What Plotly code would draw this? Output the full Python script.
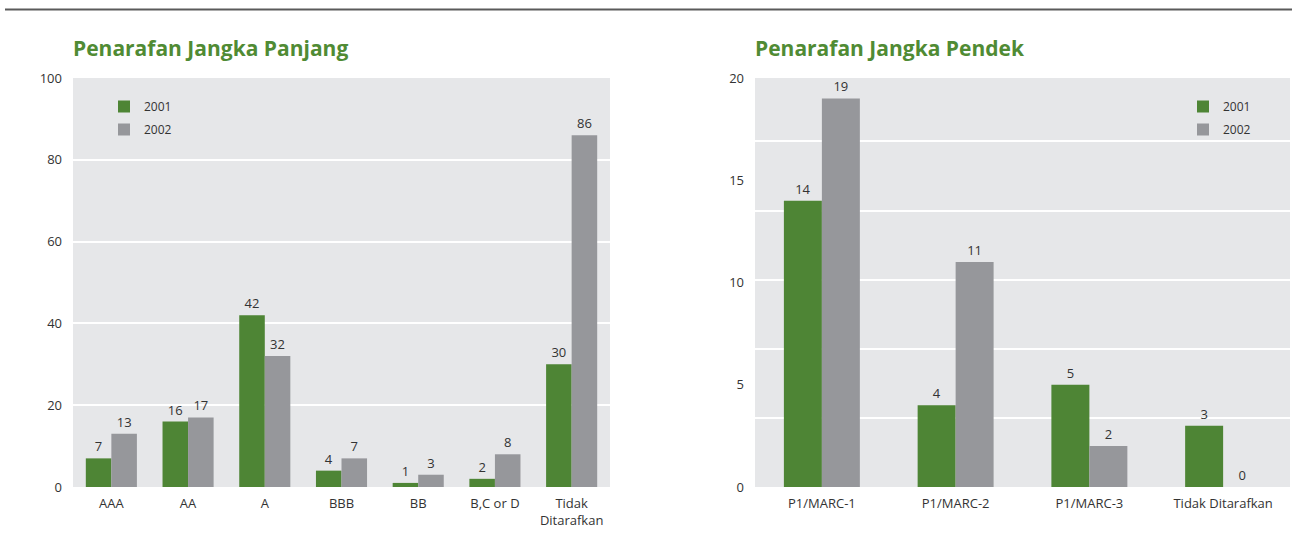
import plotly.graph_objects as go

# ---- data ----
long_categories = ["AAA", "AA", "A", "BBB", "BB", "B,C or D", "Tidak<br>Ditarafkan"]
long_2001 = [7, 16, 42, 4, 1, 2, 30]
long_2002 = [13, 17, 32, 7, 3, 8, 86]

short_categories = ["P1/MARC-1", "P1/MARC-2", "P1/MARC-3", "Tidak Ditarafkan"]
short_2001 = [14, 4, 5, 3]
short_2002 = [19, 11, 2, 0]

long_ticks = [0, 20, 40, 60, 80, 100]
short_ticks = [0, 5, 10, 15, 20]

title_long = "Penarafan Jangka Panjang"
title_short = "Penarafan Jangka Pendek"
series_names = ["2001", "2002"]

# ---- style ----
W, H = 1292, 538
GREEN = "rgb(78,133,53)"
GRAY = "rgb(150,151,155)"
BG = "rgb(230,231,233)"
TITLE_GREEN = "rgb(80,139,52)"
TXT = "#333333"
FONT = "Open Sans, Roboto, sans-serif"

def px_x(p):
    return p / W

def px_y(p):
    return 1 - p / H

fig = go.Figure()

lw = 0.333
fig.add_trace(go.Bar(x=long_categories, y=long_2001, name=series_names[0],
                     marker=dict(color=GREEN, line=dict(width=0)),
                     width=lw, offset=-lw, text=long_2001, textposition="outside",
                     cliponaxis=False, textfont=dict(size=13, color=TXT),
                     xaxis="x", yaxis="y", legend="legend", legendgroup="a"))
fig.add_trace(go.Bar(x=long_categories, y=long_2002, name=series_names[1],
                     marker=dict(color=GRAY, line=dict(width=0)),
                     width=lw, offset=0, text=long_2002, textposition="outside",
                     cliponaxis=False, textfont=dict(size=13, color=TXT),
                     xaxis="x", yaxis="y", legend="legend", legendgroup="b"))

sw = 0.284
fig.add_trace(go.Bar(x=short_categories, y=short_2001, name=series_names[0],
                     marker=dict(color=GREEN, line=dict(width=0)),
                     width=sw, offset=-sw, text=short_2001, textposition="outside",
                     cliponaxis=False, textfont=dict(size=13, color=TXT),
                     xaxis="x2", yaxis="y2", legend="legend2", legendgroup="c"))
fig.add_trace(go.Bar(x=short_categories, y=short_2002, name=series_names[1],
                     marker=dict(color=GRAY, line=dict(width=0)),
                     width=sw, offset=0, text=short_2002, textposition="outside",
                     cliponaxis=False, textfont=dict(size=13, color=TXT),
                     xaxis="x2", yaxis="y2", legend="legend2", legendgroup="d"))

ydom = [px_y(487), px_y(78)]
tf = dict(size=13, color=TXT)

fig.update_layout(
    width=W, height=H,
    margin=dict(l=0, r=0, t=0, b=0, autoexpand=False),
    paper_bgcolor="white",
    plot_bgcolor=BG,
    font=dict(family=FONT, size=12, color=TXT),
    barmode="overlay",
    xaxis=dict(domain=[px_x(73), px_x(610)], anchor="y", showgrid=False,
               zeroline=False, showline=False, ticks="", tickfont=tf, automargin=False,
               ticklabelstandoff=7),
    yaxis=dict(domain=ydom, anchor="x", range=[0, 100], tickvals=long_ticks,
               showgrid=True, gridcolor="white", gridwidth=2, zeroline=False,
               showline=False, ticks="", ticklabelstandoff=10,
               tickfont=tf, automargin=False),
    xaxis2=dict(domain=[px_x(755), px_x(1290)], anchor="y2", showgrid=False,
                zeroline=False, showline=False, ticks="", tickfont=tf, automargin=False,
                ticklabelstandoff=7),
    yaxis2=dict(domain=ydom, anchor="x2", range=[0, 20], tickvals=short_ticks,
                showgrid=False, zeroline=False, showline=False, ticks="",
                ticklabelstandoff=10, tickfont=tf, automargin=False,
                minor=dict(tick0=0, dtick=3.38, showgrid=True, gridcolor="white",
                           gridwidth=2, ticks="")),
    legend=dict(x=px_x(104), y=px_y(92), xanchor="left", yanchor="top",
                bgcolor="rgba(0,0,0,0)", font=dict(size=12, color=TXT),
                tracegroupgap=4),
    legend2=dict(x=px_x(1183), y=px_y(92), xanchor="left", yanchor="top",
                 bgcolor="rgba(0,0,0,0)", font=dict(size=12, color=TXT),
                 tracegroupgap=4),
    showlegend=True,
)

fig.add_annotation(text="<b>" + title_long + "</b>", xref="paper", yref="paper",
                   x=px_x(71), y=px_y(48), xanchor="left", yanchor="middle",
                   showarrow=False, font=dict(family=FONT, size=21, color=TITLE_GREEN))
fig.add_annotation(text="<b>" + title_short + "</b>", xref="paper", yref="paper",
                   x=px_x(753), y=px_y(48), xanchor="left", yanchor="middle",
                   showarrow=False, font=dict(family=FONT, size=21, color=TITLE_GREEN))

fig.add_shape(type="line", xref="paper", yref="paper",
              x0=px_x(5), x1=1, y0=px_y(9.5), y1=px_y(9.5),
              line=dict(color="rgb(90,90,90)", width=2))

fig.write_html("out.html")
